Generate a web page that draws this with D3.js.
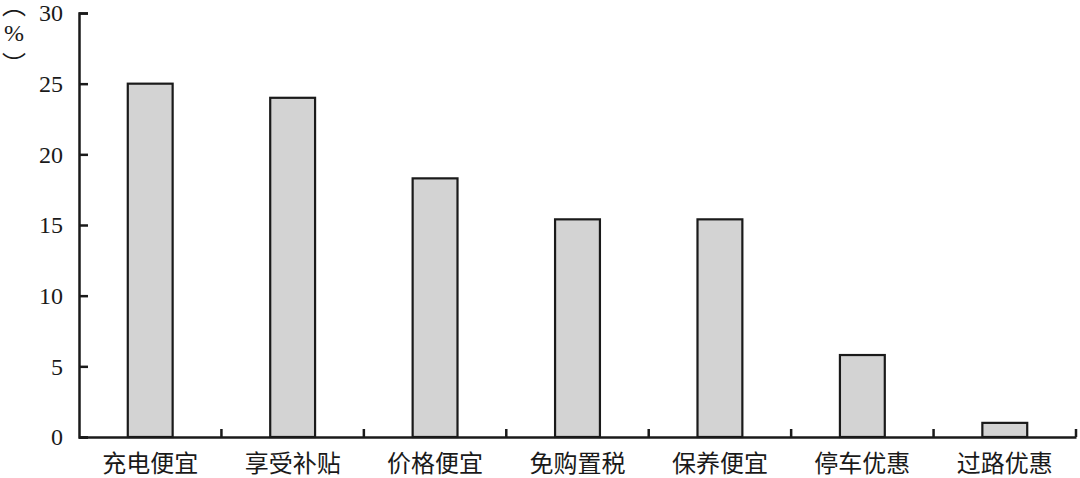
<!DOCTYPE html>
<html>
<head>
<meta charset="utf-8">
<script src="https://cdn.jsdelivr.net/npm/d3@7"></script>
<style>
  html, body { margin: 0; padding: 0; background: #fff; }
  svg { display: block; }
</style>
</head>
<body>
<svg id="chart"></svg>
<script>
// Chart data
var categories = ["充电便宜", "享受补贴", "价格便宜", "免购置税", "保养便宜", "停车优惠", "过路优惠"];
var values = [25.0, 24.0, 18.3, 15.4, 15.4, 5.8, 1.0];
var yTicks = [0, 5, 10, 15, 20, 25, 30];

var width = 1080;
var height = 478;
var margin = { top: 13, right: 4, bottom: 41, left: 79 };

var svg = d3.select("#chart")
    .attr("width", width)
    .attr("height", height);

var g = svg.append("g")
    .attr("transform", "translate(" + margin.left + "," + margin.top + ")");

var innerW = width - margin.left - margin.right;
var innerH = height - margin.top - margin.bottom;

// Scales
var x = d3.scaleBand()
    .domain(categories)
    .range([0, innerW])
    .paddingInner(0.685)
    .paddingOuter(0.3425);

var y = d3.scaleLinear()
    .domain([0, 30])
    .range([innerH, 0]);

// Bars
g.selectAll("rect.bar")
    .data(values)
    .enter()
    .append("rect")
    .attr("class", "bar")
    .attr("x", function(d, i) { return x(categories[i]); })
    .attr("y", function(d) { return y(d); })
    .attr("width", x.bandwidth())
    .attr("height", function(d) { return y(0) - y(d); })
    .attr("fill", "#d3d3d3")
    .attr("stroke", "#1a1a1a")
    .attr("stroke-width", 2.2);

// Y axis, ticks pointing inward
var yAxis = g.append("g")
    .call(d3.axisLeft(y).tickValues(yTicks).tickSize(-9).tickPadding(16));

yAxis.select(".domain").attr("stroke", "#1a1a1a").attr("stroke-width", 2.5);
yAxis.selectAll(".tick line").attr("stroke", "#1a1a1a").attr("stroke-width", 2.5);
yAxis.selectAll(".tick text")
    .attr("fill", "#1a1a1a")
    .style("font-family", "'Liberation Serif', 'DejaVu Serif', serif")
    .style("font-size", "24px");

// X axis: labels at band centres, tick marks at band boundaries
var xAxis = g.append("g")
    .attr("transform", "translate(0," + innerH + ")")
    .call(d3.axisBottom(x).tickSize(0).tickPadding(0));

xAxis.select(".domain").attr("stroke", "#1a1a1a").attr("stroke-width", 2.5);
xAxis.selectAll(".tick text")
    .attr("fill", "#1a1a1a")
    .attr("y", 27)
    .attr("dy", "0.35em")
    .style("font-family", "'Noto Sans CJK SC', sans-serif")
    .style("font-size", "24px");

var bounds = categories.map(function(c) { return x(c) - x.step() * x.paddingInner() / 2; });
bounds.push(innerW);

xAxis.selectAll("line.bound")
    .data(bounds.slice(1))
    .enter()
    .append("line")
    .attr("class", "bound")
    .attr("x1", function(d) { return d; })
    .attr("x2", function(d) { return d; })
    .attr("y1", 0)
    .attr("y2", -8)
    .attr("stroke", "#1a1a1a")
    .attr("stroke-width", 2.5);

// Unit label (%), written vertically with vertical bracket forms
var unit = svg.append("g")
    .attr("transform", "translate(14,0)")
    .attr("fill", "#1a1a1a")
    .attr("text-anchor", "middle");

unit.append("text")
    .attr("y", 14)
    .style("font-family", "'Noto Sans CJK SC', sans-serif")
    .style("font-size", "24px")
    .text("\uFE35");

unit.append("text")
    .attr("y", 33)
    .attr("dy", "0.35em")
    .style("font-family", "'Liberation Serif', 'DejaVu Serif', serif")
    .style("font-size", "24px")
    .text("%");

unit.append("text")
    .attr("y", 73)
    .style("font-family", "'Noto Sans CJK SC', sans-serif")
    .style("font-size", "24px")
    .text("\uFE36");
</script>
</body>
</html>
